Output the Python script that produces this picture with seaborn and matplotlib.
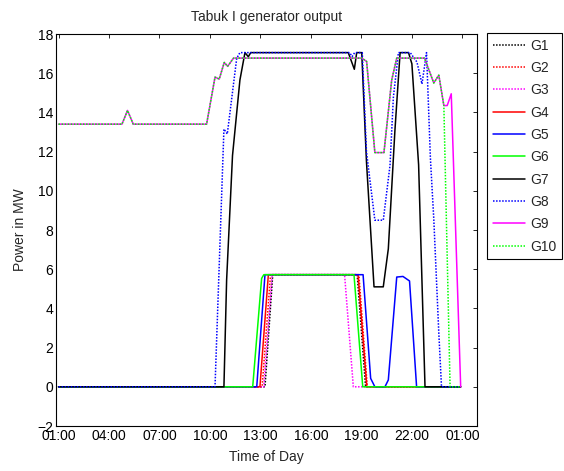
import matplotlib
matplotlib.use("Agg")
import matplotlib.pyplot as plt
import seaborn as sns
import pandas as pd

# ---- data (hours of day, MW) ----
G1_t = [1, 13.27, 13.73, 18.75, 19.25, 24.9]
G1_v = [0, 0, 5.72, 5.72, 0, 0]
G2_t = [1, 13.1, 13.6, 18.85, 19.35, 24.9]
G2_v = [0, 0, 5.72, 5.72, 0, 0]
G3_t = [1, 13.2, 13.7, 18.0, 18.52, 24.9]
G3_v = [0, 0, 5.72, 5.72, 0, 0]
G4_t = [1, 12.97, 13.47, 18.8, 19.32, 24.9]
G4_v = [0, 0, 5.72, 5.72, 0, 0]
G5_t = [1, 12.78, 13.27, 19.1, 19.55, 19.8, 20.4, 20.6, 21.1, 21.47, 21.86, 22.28, 24.9]
G5_v = [0, 0, 5.72, 5.72, 0.43, 0, 0, 0.35, 5.6, 5.63, 5.4, 0, 0]
G6_t = [1, 12.54, 13.07, 13.2, 18.56, 19.08, 24.9]
G6_v = [0, 0, 5.53, 5.72, 5.72, 0, 0]
G7_t = [1, 10.83, 10.99, 11.34, 11.78, 12.08, 12.28, 12.42, 18.22, 18.58, 18.72,
        19.02, 19.3, 19.75, 20.3, 20.6, 20.99, 21.3, 21.8, 22.0, 22.4, 22.78, 24.9]
G7_v = [0, 0, 5.45, 11.8, 15.65, 17.05, 16.84, 17.05, 17.05, 16.2, 17.05,
        17.05, 11.5, 5.1, 5.1, 7.04, 13.05, 17.05, 17.05, 16.48, 11.33, 0, 0]
G8_t = [1, 10.3, 10.83, 11.03, 11.59, 11.78, 18.3, 18.45, 18.6, 19.05, 19.3, 19.8,
        20.3, 20.7, 20.9, 21.2, 21.9, 22.3, 22.6, 22.87, 23.1, 23.3, 23.6, 23.76, 24.9]
G8_v = [0, 0, 13.15, 12.9, 16.76, 17.05, 17.05, 16.85, 17.05, 17.05, 12.0, 8.5,
        8.5, 11.3, 14.77, 17.05, 17.05, 16.57, 15.45, 17.05, 11.67, 8.59, 2.75, 0, 0]
G9_t = [1, 4.77, 5.1, 5.44, 9.8, 10.3, 10.55, 10.85, 11.05, 11.4, 19.02, 19.31, 19.8,
        20.34, 20.8, 21.1, 22.75, 23.3, 23.6, 23.9, 24.1, 24.34, 24.9]
G9_v = [13.4, 13.4, 14.1, 13.4, 13.4, 15.8, 15.7, 16.55, 16.35, 16.77, 16.77, 16.6, 11.95,
        11.95, 15.65, 16.77, 16.77, 15.5, 15.9, 14.35, 14.35, 14.95, 0]
G10_t = [1, 4.77, 5.1, 5.44, 9.8, 10.3, 10.55, 10.85, 11.05, 11.4, 19.02, 19.31, 19.8,
         20.34, 20.8, 21.1, 22.75, 23.3, 23.6, 23.9, 24.27, 24.9]
G10_v = [13.4, 13.4, 14.1, 13.4, 13.4, 15.8, 15.7, 16.55, 16.35, 16.77, 16.77, 16.6, 11.95,
         11.95, 15.65, 16.77, 16.77, 15.5, 15.9, 14.35, 0, 0]

names = ["G1", "G2", "G3", "G4", "G5", "G6", "G7", "G8", "G9", "G10"]
times = [G1_t, G2_t, G3_t, G4_t, G5_t, G6_t, G7_t, G8_t, G9_t, G10_t]
values = [G1_v, G2_v, G3_v, G4_v, G5_v, G6_v, G7_v, G8_v, G9_v, G10_v]

x_ticks = [1, 4, 7, 10, 13, 16, 19, 22, 25]
x_labels = ["01:00", "04:00", "07:00", "10:00", "13:00", "16:00", "19:00", "22:00", "01:00"]
y_ticks = [-2, 0, 2, 4, 6, 8, 10, 12, 14, 16, 18]

colors = ["#000000", "#ff0000", "#ff00ff", "#ff0000", "#0000ff", "#00ff00",
          "#000000", "#0000ff", "#ff00ff", "#00ff00"]
dot = (0, (1, 1))
styles = [dot, dot, dot, "-", "-", "-", "-", dot, "-", dot]

rows = []
for n, t, v in zip(names, times, values):
    for a, b in zip(t, v):
        rows.append({"gen": n, "time": a, "power": b})
df = pd.DataFrame(rows)

sns.set_style("white")
plt.rcParams["font.family"] = ["Liberation Sans", "DejaVu Sans"]
plt.rcParams["font.size"] = 10

fig = plt.figure(figsize=(5.64, 4.71), dpi=100)
ax = fig.add_axes([56 / 564, 1 - 426 / 471, (477 - 56) / 564, (426 - 34) / 471])

for n, c, s in zip(names, colors, styles):
    sub = df[df["gen"] == n]
    sns.lineplot(data=sub, x="time", y="power", ax=ax, color=c, linestyle=s,
                 linewidth=1.1, sort=False, estimator=None, label=n)

ax.set_xlim(0.85, 25.87)
ax.set_ylim(-2, 18)
ax.set_xticks(x_ticks)
ax.set_xticklabels(x_labels)
ax.set_yticks(y_ticks)
ax.tick_params(direction="in", length=3, width=0.6, top=True, right=True,
               labelsize=10, colors="black", pad=2)
for sp in ax.spines.values():
    sp.set_visible(True)
    sp.set_color("black")
    sp.set_linewidth(0.8)

ax.set_title("Tabuk I generator output", fontsize=10, pad=9)
ax.set_xlabel("Time of Day", fontsize=10, labelpad=5)
ax.set_ylabel("Power in MW", fontsize=10, labelpad=7)

leg = ax.legend(loc="upper left", bbox_to_anchor=(487 / 564, 1 - 33 / 471),
                bbox_transform=fig.transFigure, frameon=True, fancybox=False,
                framealpha=1, edgecolor="black", fontsize=10, handlelength=2.3,
                labelspacing=0.6, borderpad=0.4, handletextpad=0.4, borderaxespad=0)
leg.get_frame().set_linewidth(0.8)

fig.savefig("out.png", dpi=100)
